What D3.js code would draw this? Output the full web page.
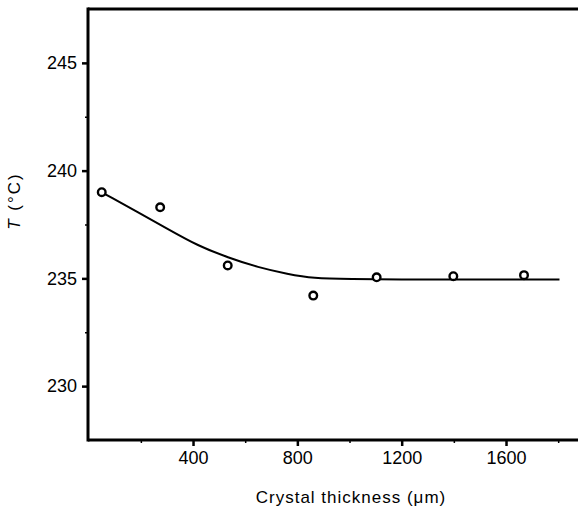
<!DOCTYPE html>
<html>
<head>
<meta charset="utf-8">
<script src="https://cdn.jsdelivr.net/npm/d3@7"></script>
<style>
  body { margin: 0; background: #fff; }
  svg text { font-family: "Liberation Sans Narrow", "Liberation Sans", Arial, sans-serif; fill: #000; }
</style>
</head>
<body>
<svg></svg>
<script>
// data
let pointX = [50, 274, 533, 861, 1104, 1398, 1669]          // crystal thickness (um)
let pointT = [239.0, 238.3, 235.6, 234.2, 235.05, 235.1, 235.15] // T (C)

// fitted curve drawn through the points
let curveX = [50, 77, 189, 304, 419, 534, 649, 764, 860, 1000, 1200, 1400, 1600, 1805]
let curveT = [239.0, 238.81, 238.07, 237.29, 236.51, 235.97, 235.51, 235.2, 235.0, 234.97, 234.95, 234.95, 234.95, 234.95]

let xMajor = [400, 800, 1200, 1600]
let xMinor = [200, 600, 1000, 1400, 1800]
let yMajor = [230, 235, 240, 245]
let yMinor = [232.5, 237.5, 242.5]

//canvas
let width = 578
let height = 509
let leftX = 88
let topY = 9
let bottomY = 440

let svg = d3.select('svg')
  .attr('width', width)
  .attr('height', height)

let xScale = d3.scaleLinear()
  .domain([0, 1876])
  .range([leftX + 0.7, width])

let yScale = d3.scaleLinear()
  .domain([227.5, 247.5])
  .range([bottomY, topY])

// frame: top line, left axis, bottom axis
let drawFrame = () => {
  svg.append('line')
    .attr('x1', leftX).attr('x2', width)
    .attr('y1', topY).attr('y2', topY)
    .attr('stroke', '#000').attr('stroke-width', 3)

  let xAxis = d3.axisBottom(xScale)
    .tickValues(xMajor)
    .tickFormat(d3.format('d'))
    .tickSize(6)
    .tickPadding(5)
  let gx = svg.append('g')
    .attr('transform', `translate(0,${bottomY})`)
    .call(xAxis)
  gx.select('.domain').remove()
  gx.selectAll('line').attr('stroke-width', 2.5)
  gx.selectAll('text').style('font-size', '18px')

  let gxm = svg.append('g')
    .attr('transform', `translate(0,${bottomY})`)
    .call(d3.axisBottom(xScale).tickValues(xMinor).tickSize(3).tickFormat(''))
  gxm.select('.domain').remove()
  gxm.selectAll('line').attr('stroke-width', 1.5)

  let yAxis = d3.axisLeft(yScale)
    .tickValues(yMajor)
    .tickFormat(d3.format('d'))
    .tickSize(6)
    .tickPadding(5)
  let gy = svg.append('g')
    .attr('transform', `translate(${leftX},0)`)
    .call(yAxis)
  gy.select('.domain').remove()
  gy.selectAll('line').attr('stroke-width', 2.5)
  gy.selectAll('text').style('font-size', '18px')

  let gym = svg.append('g')
    .attr('transform', `translate(${leftX},0)`)
    .call(d3.axisLeft(yScale).tickValues(yMinor).tickSize(3).tickFormat(''))
  gym.select('.domain').remove()
  gym.selectAll('line').attr('stroke-width', 1.5)

  svg.append('line')
    .attr('x1', leftX).attr('x2', width)
    .attr('y1', bottomY).attr('y2', bottomY)
    .attr('stroke', '#000').attr('stroke-width', 3)

  svg.append('line')
    .attr('x1', leftX).attr('x2', leftX)
    .attr('y1', topY - 1.5).attr('y2', bottomY + 1.5)
    .attr('stroke', '#000').attr('stroke-width', 3)
}

let drawCurve = () => {
  let line = d3.line()
    .x((d, i) => xScale(curveX[i]))
    .y((d, i) => yScale(curveT[i]))
    .curve(d3.curveBasis)

  svg.append('path')
    .datum(curveX)
    .attr('d', line)
    .attr('fill', 'none')
    .attr('stroke', '#000')
    .attr('stroke-width', 2)
}

let drawPoints = () => {
  svg.selectAll('circle')
    .data(pointX)
    .enter()
    .append('circle')
    .attr('cx', (d) => xScale(d))
    .attr('cy', (d, i) => yScale(pointT[i]))
    .attr('r', 3.8)
    .attr('fill', '#fff')
    .attr('stroke', '#000')
    .attr('stroke-width', 2.4)
}

let drawLabels = () => {
  svg.append('text')
    .attr('x', 351)
    .attr('y', 503)
    .attr('text-anchor', 'middle')
    .style('font-size', '17px')
    .style('letter-spacing', '1px')
    .text('Crystal thickness  (μm)')

  let yl = svg.append('text')
    .attr('transform', 'translate(20,201) rotate(-90)')
    .attr('text-anchor', 'middle')
    .style('font-size', '17px')
    .style('letter-spacing', '2px')
  yl.append('tspan').style('font-style', 'italic').text('T')
  yl.append('tspan').text(' (°C)')
}

drawFrame()
drawCurve()
drawPoints()
drawLabels()
</script>
</body>
</html>
